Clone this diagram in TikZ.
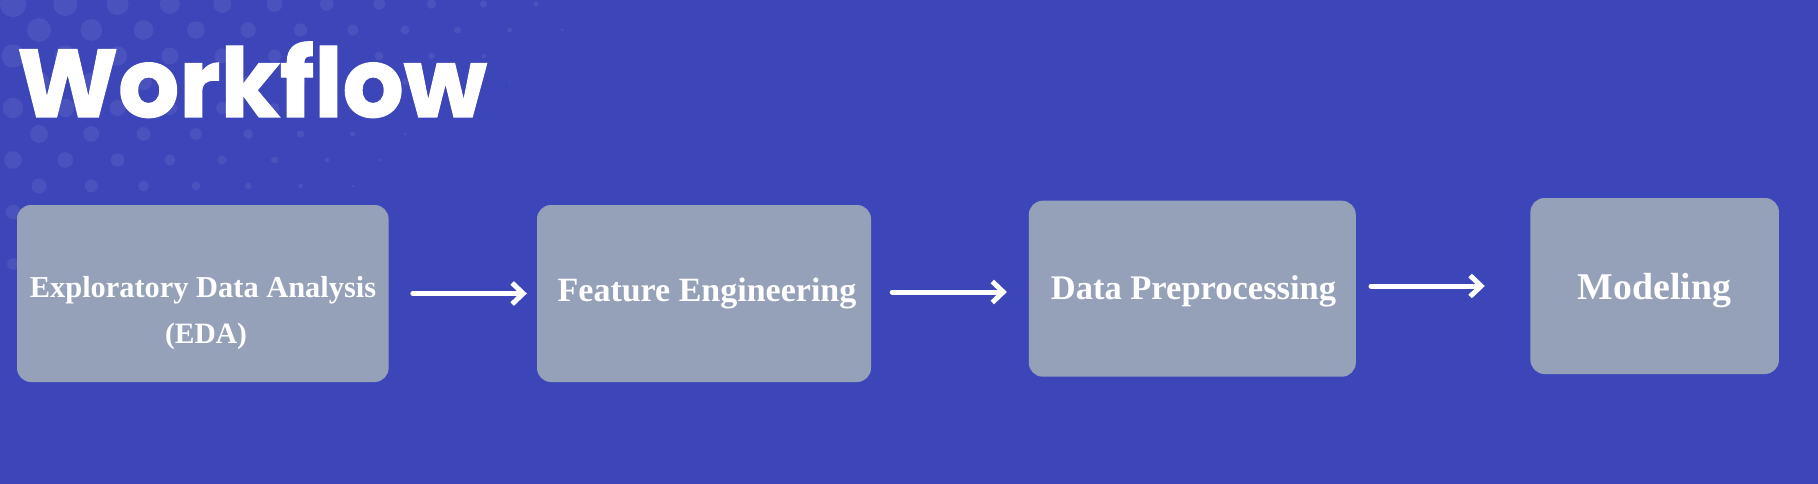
\documentclass[tikz,border=0pt]{standalone}
\usepackage{fontspec}
\setmainfont{Liberation Serif}
\newfontfamily\titlefont[FakeBold=1.3]{Poppins}
\usetikzlibrary{arrows.meta}
\definecolor{bgblue}{RGB}{61,70,184}
\definecolor{boxgray}{RGB}{148,161,184}
\begin{document}
\begin{tikzpicture}[x=1pt,y=-1pt,
  stage/.style={fill=boxgray, rounded corners=14pt, inner sep=0pt, draw=none},
  lbl/.style={text=white, inner sep=0pt, anchor=base},
  arr/.style={draw=white, line width=5pt, line cap=round, -{Straight Barb[length=11pt,width=21pt]}}
]
\fill[bgblue] (0,0) rectangle (1818,484);
\useasboundingbox (0,0) rectangle (1818,484);
% decorative dots
\foreach \k in {0,...,10}{
  \foreach \j in {0,...,10}{
    \pgfmathsetmacro\xx{13+26*mod(\k,2)+52.3*\j}
    \pgfmathsetmacro\yy{4+26*\k}
    \pgfmathsetmacro\rr{13.5-0.02*\xx-0.028*\yy}
    \ifdim\rr pt>1pt
      \fill[white,opacity=0.07] (\xx,\yy) circle[radius=\rr];
    \fi
  }
}
% title
\node[anchor=base west, text=white, inner sep=0pt, font=\titlefont\bfseries\fontsize{96}{100}\selectfont] (title) at (17,117) {Workflow};
% boxes
\node[stage, minimum width=371.6pt, minimum height=177pt] (eda) at (202.8,293.5) {};
\node[stage, minimum width=334pt, minimum height=177pt] (fe) at (704,293.5) {};
\node[stage, minimum width=327pt, minimum height=176pt] (dp) at (1192.3,288.7) {};
\node[stage, minimum width=248.5pt, minimum height=176pt] (mod) at (1654.7,286) {};
% labels
\node[lbl, font=\bfseries\fontsize{30.4}{36}\selectfont] (edaA) at (203,297) {Exploratory Data Analysis};
\node[lbl, font=\bfseries\fontsize{29.5}{36}\selectfont] (edaB) at (206,343) {(EDA)};
\node[lbl, font=\bfseries\fontsize{34}{40}\selectfont] (feT) at (707,301) {Feature Engineering};
\node[lbl, font=\bfseries\fontsize{34.5}{40}\selectfont] (dpT) at (1193.5,299) {Data Preprocessing};
\node[lbl, font=\bfseries\fontsize{37.8}{44}\selectfont] (modT) at (1654.5,299) {Modeling};
% connectors
\draw[arr, shorten <=24pt, shorten >=10pt] (eda.east) -- (fe.west);
\draw[arr, shorten <=21pt, shorten >=21.7pt] ([yshift=1.5pt]fe.east) -- ([yshift=1.5pt]fe.east -| dp.west);
\draw[arr, shorten <=15pt, shorten >=45.5pt] (mod.west -| dp.east) -- (mod.west);
\end{tikzpicture}
\end{document}
